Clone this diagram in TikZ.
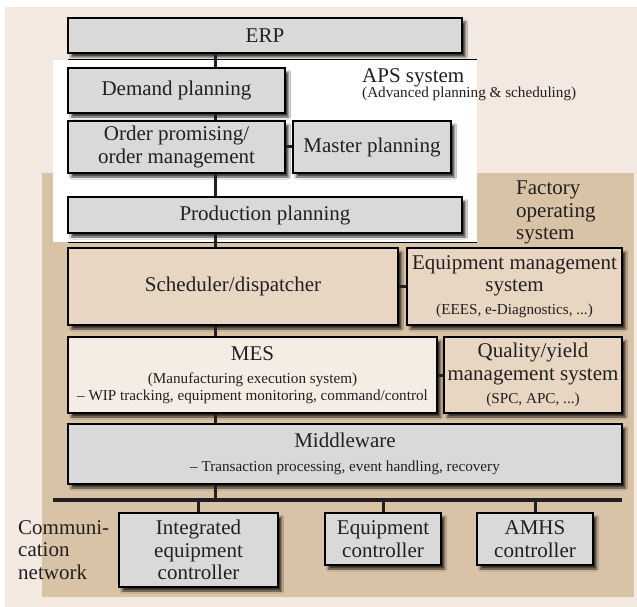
\documentclass[tikz,border=0pt]{standalone}
\usepackage{fontspec}
\setmainfont{Liberation Serif}
\usetikzlibrary{shadows.blur}

\definecolor{pagebg}{HTML}{F3E9E0}
\definecolor{fosbg}{HTML}{D9C3A6}
\definecolor{boxgray}{HTML}{D9D9D9}
\definecolor{boxtan}{HTML}{E7D6C2}
\definecolor{boxlight}{HTML}{F5ECE3}
\definecolor{ink}{HTML}{231F20}

\newcommand\bigf{\fontsize{21}{22.5}\selectfont}
\newcommand\smallf{\fontsize{15.2}{17}\selectfont}

\tikzset{
  box/.style={draw=black, line width=1.2pt, inner sep=0pt, align=center,
    font=\bigf, text=ink,
    blur shadow={shadow xshift=3.5pt, shadow yshift=-4pt,
      shadow blur radius=2pt, shadow opacity=75}},
  graybox/.style={box, fill=boxgray},
  tanbox/.style={box, fill=boxtan},
  lightbox/.style={box, fill=boxlight},
  spine/.style={draw=ink, line width=3pt},
  link/.style={draw=ink, line width=3pt},
  busline/.style={draw=ink, line width=3.2pt},
  frameline/.style={draw=black, line width=1pt},
  caption/.style={inner sep=0pt, text=ink, font=\bigf},
}

\begin{document}
\begin{tikzpicture}[x=1pt, y=-1pt]
\useasboundingbox (0,0) rectangle (637,607);

% backgrounds: page, factory operating system, APS system
\fill[pagebg] (5,7) rectangle (637,607);
\fill[fosbg] (42,173) rectangle (634,597);
\fill[white] (53,60) rectangle (477,242);

% APS system frame lines
\coordinate (apsTL) at (68,60);
\coordinate (apsTR) at (477,60);
\coordinate (apsBL) at (68,242);
\coordinate (apsBR) at (477,242);
\draw[frameline] (apsTL) -- (apsTR);
\draw[frameline] (apsBL) -- (apsBR);

% vertical spine and network bus positions
\coordinate (spinex) at (215,0);
\coordinate (busL) at (53,500);
\coordinate (busR) at (622,500);

% boxes
\node[graybox, minimum width=394, minimum height=35] (erp) at (265,35.5) {ERP};
\node[graybox, minimum width=217, minimum height=45] (demand) at (176.5,90.5) {Demand planning};
\node[graybox, minimum width=217, minimum height=52] (order) at (176.5,147) {Order promising/\\order management};
\node[graybox, minimum width=158, minimum height=52] (master) at (372,147) {Master planning};
\node[graybox, minimum width=394, minimum height=36] (prod) at (265,215) {Production planning};

\node[tanbox, minimum width=330, minimum height=77] (sched) at (233,286.5) {Scheduler/dispatcher};
\node[tanbox, minimum width=215, minimum height=77] (eqm) at (514.5,286.5)
  {Equipment management\\system\\{\smallf (EEES, e-Diagnostics, ...)}};
\node[lightbox, minimum width=369, minimum height=76] (mes) at (252.5,375)
  {MES\\{\smallf (Manufacturing execution system)}\\[-5.5pt]{\smallf -- WIP tracking, equipment monitoring, command/control}};
\node[tanbox, minimum width=178, minimum height=76] (qual) at (533,375)
  {Quality/yield\\management system\\[1pt]{\smallf (SPC, APC, ...)}};
\node[graybox, minimum width=554, minimum height=60] (mw) at (345,454)
  {Middleware\\[1.5pt]{\smallf -- Transaction processing, event handling, recovery}};

\node[graybox, minimum width=159, minimum height=74] (iec) at (198.5,550) {Integrated\\equipment\\controller};
\node[graybox, minimum width=116, minimum height=52] (ec) at (383,539) {Equipment\\controller};
\node[graybox, minimum width=116, minimum height=52] (amhs) at (535,539) {AMHS\\controller};

% captions
\node[caption, anchor=west] (aps) at (362,78) {APS system};
\node[caption, font=\smallf, anchor=west] (apsfull) at (362,94) {(Advanced planning \& scheduling)};
\node[caption, anchor=north west, align=left] (fos) at (516,181) {Factory\\operating\\system};
\node[caption, anchor=north west, align=left] (comm) at (18,520) {Communi-\\cation\\network};

% main vertical spine, box to box
\draw[spine] (erp.south -| spinex) -- (demand.north -| spinex);
\draw[spine] (demand.south -| spinex) -- (order.north -| spinex);
\draw[spine] (order.south -| spinex) -- (prod.north -| spinex);
\draw[spine] (prod.south -| spinex) -- (sched.north -| spinex);
\draw[spine] (sched.south -| spinex) -- (mes.north -| spinex);
\draw[spine] (mes.south -| spinex) -- (mw.north -| spinex);
\draw[spine] (mw.south -| spinex) -- (busL -| spinex);

% side links
\draw[link] (order.east) -- (master.west);
\draw[link] (sched.east) -- (eqm.west);
\draw[link] (mes.east) -- (qual.west);

% communication network bus and drops
\draw[busline] (busL) -- (busR);
\draw[spine] (busL -| iec.north) -- (iec.north);
\draw[spine] (busL -| ec.north) -- (ec.north);
\draw[spine] (busL -| amhs.north) -- (amhs.north);
\end{tikzpicture}
\end{document}
